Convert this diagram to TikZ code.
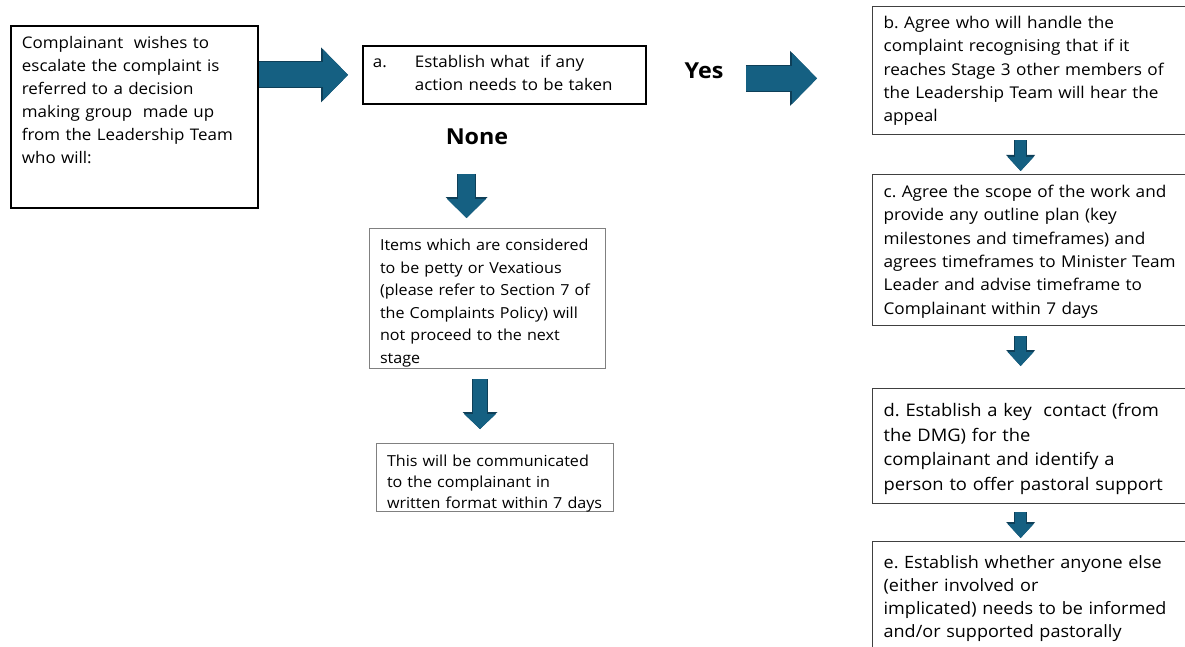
\documentclass[tikz,border=0pt]{standalone}
\usepackage{fontspec}
\setmainfont{Open Sans}[FakeStretch=1.06]
\usetikzlibrary{arrows.meta}
\frenchspacing

\definecolor{arrowfill}{HTML}{156082}
\definecolor{arrowline}{HTML}{0E3F58}

\begin{document}
\begin{tikzpicture}[x=1pt,y=-1pt,
  box/.style={anchor=north west,align=left,inner xsep=11pt,inner ysep=4pt,
    font=\fontsize{16pt}{23pt}\selectfont},
  firmbox/.style={box,draw=black,line width=1.8pt},
  softbox/.style={box,draw=black!50,line width=1pt,inner xsep=10.5pt,
    font=\fontsize{15.2pt}{22.5pt}\selectfont},
  stagebox/.style={box,draw=black!75,line width=1.3pt,
    font=\fontsize{16.2pt}{23.3pt}\selectfont},
  answer/.style={anchor=base,font=\bfseries\fontsize{22pt}{26pt}\selectfont},
  sidearrow/.style={draw=arrowfill,line width=25pt,
    -{Triangle[length=25pt,width=51pt,line width=0pt]},
    preaction={draw=arrowline,line width=27pt,
      -{Triangle[length=27pt,width=55pt,line width=0pt]}}},
  droparrow/.style={draw=arrowfill,line width=16.5pt,
    -{Triangle[length=19pt,width=39pt,line width=0pt]},
    preaction={draw=arrowline,line width=18.5pt,
      -{Triangle[length=21pt,width=42pt,line width=0pt]}}},
  slimarrow/.style={draw=arrowfill,line width=13.5pt,
    -{Triangle[length=15pt,width=32pt,line width=0pt]},
    preaction={draw=arrowline,line width=15.5pt,
      -{Triangle[length=17pt,width=35pt,line width=0pt]}}},
  steparrow/.style={draw=arrowfill,line width=11.5pt,
    -{Triangle[length=14pt,width=26pt,line width=0pt]},
    preaction={draw=arrowline,line width=13.5pt,
      -{Triangle[length=16pt,width=29pt,line width=0pt]}}}]
  \useasboundingbox (0,0) rectangle (1185,647);
  \fill[white] (0,0) rectangle (1185,647);
  \clip (0,0) rectangle (1185,647);

  % first stage and decision
  \node[firmbox,text width=225pt,text height=19pt,text depth=155pt] (lead) at (10,25)
    {Complainant\ \ wishes to\\ escalate the complaint is\\ referred to a decision\\
     making group\ \ made up\\ from the Leadership Team\\ who will:};
  \node[firmbox,inner xsep=10pt,font=\fontsize{16pt}{23.3pt}\selectfont,
    text width=263pt,text height=17.5pt,text depth=32.5pt] (est) at (362,45)
    {\makebox[42pt][l]{a.}Establish what\ \ if any\\ \hspace*{42pt}action needs to be taken};
  \node[answer] (yes) at (704,79) {Yes};
  \node[answer] (none) at (477,145) {None};

  % no action needed
  \node[softbox,text width=215pt,text height=18pt,text depth=114pt] (petty) at (369,228)
    {Items which are considered\\ to be petty or Vexatious\\ (please refer to Section 7 of\\
     the Complaints Policy) will\\ not proceed to the next\\ stage};
  \node[softbox,font=\fontsize{15.2pt}{21pt}\selectfont,
    text width=216pt,text height=19pt,text depth=41pt] (comm) at (376,443)
    {This will be communicated\\ to the complainant in\\ written format within 7 days};

  % action needed
  \node[stagebox,text width=308pt,text height=18pt,text depth=102pt] (handle) at (872,6)
    {b. Agree who will handle the\\ complaint recognising that if it\\
     reaches Stage 3 other members of\\ the Leadership Team will hear the\\ appeal};
  \node[stagebox,text width=308pt,text height=19pt,text depth=124pt] (scope) at (872,174)
    {c. Agree the scope of the work and\\ provide any outline plan (key\\
     milestones and timeframes) and\\ agrees timeframes to Minister Team\\
     Leader and advise timeframe to\\ Complainant within 7 days};
  \node[stagebox,font=\fontsize{17.3pt}{24.5pt}\selectfont,
    text width=308pt,text height=24pt,text depth=83pt] (contact) at (872,388)
    {d. Establish a key\ \ contact (from\\ the DMG) for the\\
     complainant and identify a\\ person to offer pastoral support};
  \node[stagebox,font=\fontsize{17pt}{23pt}\selectfont,
    text width=308pt,text height=23pt,text depth=110pt] (anyone) at (872,541)
    {e. Establish whether anyone else\\ (either involved or\\
     implicated) needs to be informed\\ and/or supported pastorally};

  % block arrows
  \draw[sidearrow,shorten >=14pt] (lead.east |- est.west) -- (est.west);
  \draw[sidearrow,shorten <=99pt,shorten >=55pt]
    ([yshift=-3.5pt]est.east) -- ([yshift=-3.5pt]est.east -| handle.west);
  \draw[droparrow] ([xshift=-21pt,yshift=54pt]petty.north) -- ([xshift=-21pt,yshift=10pt]petty.north);
  \draw[slimarrow,shorten <=10pt,shorten >=14pt]
    ([xshift=-7.5pt]petty.south) -- ([xshift=-7.5pt]petty.south |- comm.north);
  \draw[steparrow,shorten <=5pt,shorten >=3pt]
    ([xshift=-17pt]handle.south) -- ([xshift=-17pt]handle.south |- scope.north);
  \draw[steparrow,shorten <=10pt,shorten >=22pt]
    ([xshift=-17pt]scope.south) -- ([xshift=-17pt]scope.south |- contact.north);
  \draw[steparrow,shorten <=8pt,shorten >=3pt]
    ([xshift=-17pt]contact.south) -- ([xshift=-17pt]contact.south |- anyone.north);
\end{tikzpicture}
\end{document}
